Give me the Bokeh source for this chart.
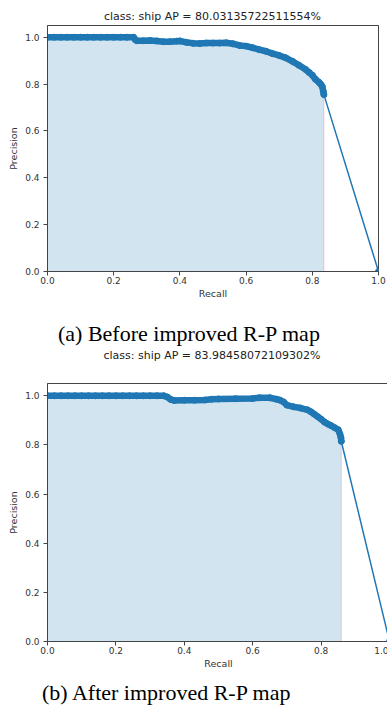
import numpy as np
from bokeh.plotting import figure
from bokeh.layouts import column
from bokeh.models import Range1d, FixedTicker, PrintfTickFormatter, Div
from bokeh.embed import file_html
from bokeh.resources import INLINE

# ---- data: chart (a) before improvement ----
title_a = "class: ship AP = 80.03135722511554%"
caption_a = "(a) Before improved R-P map"
recall_a = [0.0, 0.02, 0.04, 0.06, 0.08, 0.10, 0.12, 0.14, 0.16, 0.18, 0.20, 0.22, 0.24, 0.26,
            0.265, 0.27, 0.29, 0.31, 0.33, 0.35, 0.37, 0.39, 0.40, 0.42, 0.44, 0.46, 0.48, 0.50,
            0.52, 0.54, 0.56, 0.58, 0.60, 0.62, 0.64, 0.66, 0.68, 0.70, 0.72, 0.74, 0.76, 0.78,
            0.79, 0.80, 0.81, 0.82, 0.825, 0.83, 0.833, 0.835]
precision_a = [1.0, 1.0, 1.0, 1.0, 1.0, 1.0, 1.0, 1.0, 1.0, 1.0, 1.0, 1.0, 1.0, 1.0,
               0.99, 0.985, 0.985, 0.986, 0.984, 0.981, 0.981, 0.983, 0.984, 0.978, 0.974, 0.973, 0.975, 0.975,
               0.975, 0.976, 0.972, 0.965, 0.962, 0.955, 0.947, 0.94, 0.93, 0.922, 0.912, 0.897, 0.88, 0.862,
               0.85, 0.838, 0.82, 0.808, 0.80, 0.79, 0.77, 0.755]

# ---- data: chart (b) after improvement ----
title_b = "class: ship AP = 83.98458072109302%"
caption_b = "(b) After improved R-P map"
recall_b = [0.0, 0.02, 0.04, 0.06, 0.08, 0.10, 0.12, 0.14, 0.16, 0.18, 0.20, 0.22, 0.24, 0.26,
            0.28, 0.30, 0.32, 0.34, 0.35, 0.36, 0.37, 0.40, 0.43, 0.46, 0.48, 0.50, 0.55, 0.60,
            0.62, 0.65, 0.67, 0.68, 0.69, 0.70, 0.72, 0.74, 0.76, 0.77, 0.78, 0.79, 0.80, 0.81,
            0.82, 0.83, 0.84, 0.85, 0.855, 0.858, 0.859]
precision_b = [1.0, 1.0, 1.0, 1.0, 1.0, 1.0, 1.0, 1.0, 1.0, 1.0, 1.0, 1.0, 1.0, 1.0,
               1.0, 1.0, 1.0, 1.0, 0.995, 0.985, 0.981, 0.982, 0.982, 0.983, 0.986, 0.987, 0.988, 0.989,
               0.992, 0.992, 0.986, 0.982, 0.975, 0.962, 0.955, 0.95, 0.943, 0.935, 0.925, 0.915, 0.905, 0.893,
               0.885, 0.878, 0.87, 0.862, 0.845, 0.83, 0.815]

end_recall = 1.0
end_precision = 0.0

ticks = [0.0, 0.2, 0.4, 0.6, 0.8, 1.0]

BLUE = "#1f77b4"
SPINE = "#444444"
TXT = "#333333"


def title_div(text, width, margin):
    return Div(text=text, width=width, height=12, margin=margin,
               styles={"font-family": "DejaVu Sans", "font-size": "11px",
                       "line-height": "12px", "text-align": "center",
                       "color": "#222222", "white-space": "nowrap"})


def caption_div(text, width, margin):
    return Div(text=text, width=width, height=22, margin=margin,
               styles={"font-family": "Liberation Serif", "font-size": "22px",
                       "line-height": "22px", "text-align": "left",
                       "color": "black", "white-space": "nowrap"})


def make(rec, prec, frame_w, frame_h, left, right, top, bottom):
    p = figure(frame_width=frame_w, frame_height=frame_h,
               x_range=Range1d(0, 1.0), y_range=Range1d(0, 1.05),
               output_backend="svg", toolbar_location=None,
               min_border_left=left, min_border_right=right,
               min_border_top=top, min_border_bottom=bottom)
    p.xgrid.visible = False
    p.ygrid.visible = False
    p.outline_line_color = SPINE
    p.outline_line_width = 1
    p.background_fill_color = "white"
    p.border_fill_color = "white"
    for ax in (p.xaxis[0], p.yaxis[0]):
        ax.ticker = FixedTicker(ticks=ticks)
        ax.formatter = PrintfTickFormatter(format="%.1f")
        ax.axis_line_color = SPINE
        ax.major_tick_line_color = SPINE
        ax.major_tick_in = 0
        ax.major_tick_out = 4
        ax.minor_tick_line_color = None
        ax.major_label_text_font = "DejaVu Sans"
        ax.major_label_text_font_size = "9px"
        ax.major_label_text_color = TXT
        ax.axis_label_text_font = "DejaVu Sans"
        ax.axis_label_text_font_size = "9.5px"
        ax.axis_label_text_font_style = "normal"
        ax.axis_label_text_color = TXT
    p.xaxis.axis_label = "Recall"
    p.yaxis.axis_label = "Precision"
    p.xaxis.major_label_standoff = 1
    p.xaxis.axis_label_standoff = 1
    p.yaxis.major_label_standoff = 4
    p.yaxis.axis_label_standoff = 3

    # interpolated (envelope) precision for the filled area
    env = np.maximum.accumulate(np.array(prec)[::-1])[::-1]
    px = [rec[0]] + list(rec) + [rec[-1]]
    py = [0.0] + list(env) + [0.0]
    p.patch(px, py, fill_color=BLUE, fill_alpha=0.2, line_color="#e05050", line_alpha=0.25, line_width=1)

    allx = list(rec) + [end_recall]
    ally = list(prec) + [end_precision]
    p.line(allx, ally, line_color=BLUE, line_width=1.5)
    p.line(rec, prec, line_color=BLUE, line_width=6.5, line_join="round", line_cap="round")
    p.scatter(allx, ally, size=6, color=BLUE)
    return p


t1 = title_div(title_a, 331, (11, 0, 0, 47))
p1 = make(recall_a, precision_a, 331, 246, 47, 9, 2, 29)
c1 = caption_div(caption_a, 320, (22, 0, 0, 58))
t2 = title_div(title_b, 342, (5, 0, 0, 41))
p2 = make(recall_b, precision_b, 342, 258, 41, 4, 21, 29)
c2 = caption_div(caption_b, 330, (11, 0, 0, 42))

layout = column(t1, p1, c1, t2, p2, c2, spacing=0)
open("out.html", "w").write(file_html(layout, INLINE))
